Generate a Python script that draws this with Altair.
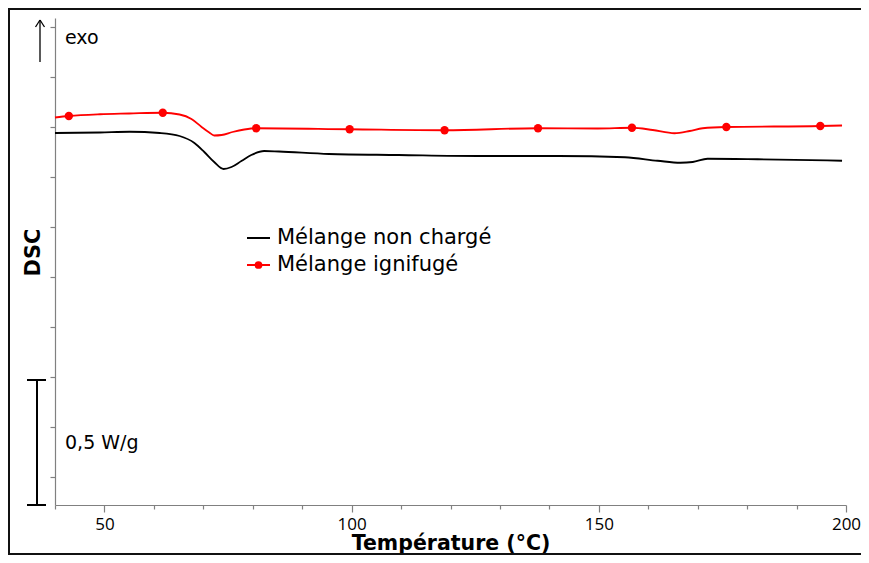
import altair as alt
import pandas as pd

# ---------------- data ----------------
series_names = ["Mélange non chargé", "Mélange ignifugé"]
series_colors = ["#000000", "#ff0000"]

temp_black = [40.0, 49.1, 55.1, 61.2, 65.2, 68.2, 70.2, 72.2, 74.1, 75.7, 77.7,
              79.7, 82.3, 85.3, 95.4, 109.5, 125.6, 141.8, 155.3, 161.9, 166.5,
              169.0, 172.0, 182.1, 199.2]
dsc_black = [1.376, 1.378, 1.381, 1.376, 1.364, 1.336, 1.300, 1.260, 1.232, 1.240,
             1.264, 1.288, 1.304, 1.302, 1.292, 1.288, 1.284, 1.284, 1.279, 1.265,
             1.257, 1.260, 1.273, 1.271, 1.265]

temp_red = [40.0, 42.8, 49.1, 55.0, 61.8, 65.2, 67.6, 69.6, 71.2, 72.2, 73.7,
            75.9, 78.3, 80.7, 99.6, 118.8, 137.7, 149.8, 156.7, 160.9, 165.3,
            168.4, 171.0, 175.8, 194.8, 199.2]
dsc_red = [1.438, 1.444, 1.451, 1.454, 1.457, 1.450, 1.432, 1.401, 1.378, 1.366,
           1.368, 1.380, 1.390, 1.395, 1.391, 1.387, 1.395, 1.394, 1.397, 1.388,
           1.375, 1.384, 1.395, 1.400, 1.404, 1.406]

marker_temp = [42.8, 61.8, 80.7, 99.6, 118.8, 137.7, 156.7, 175.8, 194.8]
marker_dsc = [1.444, 1.457, 1.395, 1.391, 1.387, 1.395, 1.397, 1.400, 1.404]

x_tick_values = list(range(40, 201, 10))
y_tick_values = [0.0, 0.2, 0.4, 0.6, 0.8, 1.0, 1.2, 1.4, 1.6, 1.8]

x_domain = [40, 200]
y_domain = [-0.112, 1.836]

scale_bar_length = 0.5           # W/g
scale_bar_label = "0,5 W/g"
exo_label = "exo"
x_title = "Température (°C)"
y_title = "DSC"

# ---------------- tables ----------------
lines_df = pd.DataFrame({
    "temp": temp_black + temp_red,
    "dsc": dsc_black + dsc_red,
    "series": [series_names[0]] * len(temp_black) + [series_names[1]] * len(temp_red),
})
markers_df = pd.DataFrame({"temp": marker_temp, "dsc": marker_dsc,
                           "series": [series_names[1]] * len(marker_temp)})
bar_bottom = y_domain[0]
bar_top = y_domain[0] + scale_bar_length
bar_df = pd.DataFrame({"dsc": [bar_bottom], "dsc2": [bar_top]})
caps_df = pd.DataFrame({"dsc": [bar_bottom, bar_top]})
bar_text_df = pd.DataFrame({"dsc": [(bar_bottom + bar_top) / 2], "label": [scale_bar_label]})
one = pd.DataFrame({"k": [0]})

# ---------------- layout ----------------
W, H = 791, 487
PAD = {"left": 47, "top": 10, "right": 15, "bottom": 50}
FONT = "DejaVu Sans"
TICK_FONT = "Open Sans"
AXIS_GRAY = "#808080"
FRAME = "#111111"

x_scale = alt.Scale(domain=x_domain, nice=False, zero=False)
y_scale = alt.Scale(domain=y_domain, nice=False, zero=False)
color_scale = alt.Scale(domain=series_names, range=series_colors)

x_axis = alt.Axis(
    values=x_tick_values,
    labelExpr="datum.value % 50 === 0 ? datum.label : ''",
    tickSize={"condition": {"test": "datum.value % 50 === 0", "value": 7}, "value": 4},
    labelPadding=4,
    labelFont=TICK_FONT, labelFontSize=17, labelColor="#000000",
    labelFlush=False, labelOverlap=False,
    domainColor=AXIS_GRAY, tickColor=AXIS_GRAY, domainWidth=1.2, tickWidth=1.2,
    grid=False,
    title=x_title, titleFont=FONT, titleFontSize=20.5, titleFontWeight="bold",
    titleColor="#000000", titleBaseline="alphabetic", titleY=44,
)
y_axis = alt.Axis(
    values=y_tick_values, labels=False, tickSize=5, grid=False,
    domainColor=AXIS_GRAY, tickColor=AXIS_GRAY, domainWidth=1.2, tickWidth=1.2,
    title=y_title, titleFont=FONT, titleFontSize=21, titleFontWeight="bold",
    titleColor="#000000", titleAngle=270, titleAlign="center",
    titleBaseline="middle", titleX=-22, titleY=234,
)

X = lambda f="temp": alt.X(f"{f}:Q", scale=x_scale, axis=x_axis)
Y = lambda f="dsc": alt.Y(f"{f}:Q", scale=y_scale, axis=y_axis)

# outer frame: thin filled bands on the top, left and bottom (right edge off the page)
frame_bottom = H + PAD["bottom"] - 1
frame_right = W + PAD["right"] + 5
frame_top = alt.Chart(one).mark_rect(color=FRAME, strokeWidth=0).encode(
    x=alt.value(-47), x2=alt.value(frame_right), y=alt.value(-10), y2=alt.value(-8))
frame_left = alt.Chart(one).mark_rect(color=FRAME, strokeWidth=0).encode(
    x=alt.value(-47), x2=alt.value(-45), y=alt.value(-10), y2=alt.value(frame_bottom + 1))
frame_bot = alt.Chart(one).mark_rect(color=FRAME, strokeWidth=0).encode(
    x=alt.value(-47), x2=alt.value(frame_right), y=alt.value(frame_bottom - 1),
    y2=alt.value(frame_bottom + 1))

lines = alt.Chart(lines_df).mark_line(interpolate="monotone", strokeWidth=1.8).encode(
    x=X(), y=Y(),
    color=alt.Color("series:N", scale=color_scale, legend=None),
    detail="series:N",
)
markers = alt.Chart(markers_df).mark_point(filled=True, size=70, opacity=1).encode(
    x=X(), y=Y(),
    color=alt.Color("series:N", scale=color_scale, legend=None),
)

# scale bar 0,5 W/g
bar = alt.Chart(bar_df).mark_rule(color="#000000", strokeWidth=2).encode(
    x=alt.value(-18), y=Y(), y2="dsc2:Q")
caps = alt.Chart(caps_df).mark_rule(color="#000000", strokeWidth=2).encode(
    x=alt.value(-28), x2=alt.value(-9), y=Y())
bar_text = alt.Chart(bar_text_df).mark_text(
    align="left", baseline="middle", font=FONT, fontSize=19, color="#000000").encode(
    x=alt.value(10), y=Y(), text="label:N")

# exo arrow
arrow_shaft = alt.Chart(one).mark_rule(color="#000000", strokeWidth=1.3).encode(
    x=alt.value(-15), y=alt.value(2), y2=alt.value(44))
arrow_l = alt.Chart(one).mark_rule(color="#000000", strokeWidth=1.3).encode(
    x=alt.value(-15), x2=alt.value(-19.5), y=alt.value(2), y2=alt.value(9))
arrow_r = alt.Chart(one).mark_rule(color="#000000", strokeWidth=1.3).encode(
    x=alt.value(-15), x2=alt.value(-10.5), y=alt.value(2), y2=alt.value(9))
exo = alt.Chart(one).mark_text(align="left", baseline="middle", font=FONT,
                               fontSize=19, color="#000000", text=exo_label).encode(
    x=alt.value(10), y=alt.value(20))

# legend (drawn by hand)
leg_y = [220, 247]
leg1_line = alt.Chart(one).mark_rule(color=series_colors[0], strokeWidth=2).encode(
    x=alt.value(192), x2=alt.value(215), y=alt.value(leg_y[0]))
leg2_line = alt.Chart(one).mark_rule(color=series_colors[1], strokeWidth=2).encode(
    x=alt.value(192), x2=alt.value(215), y=alt.value(leg_y[1]))
leg2_dot = alt.Chart(one).mark_point(filled=True, size=60, opacity=1,
                                     color=series_colors[1]).encode(
    x=alt.value(203.5), y=alt.value(leg_y[1]))
leg1_text = alt.Chart(one).mark_text(align="left", baseline="middle", font=FONT,
                                     fontSize=21, color="#000000",
                                     text=series_names[0]).encode(
    x=alt.value(222), y=alt.value(leg_y[0]))
leg2_text = alt.Chart(one).mark_text(align="left", baseline="middle", font=FONT,
                                     fontSize=21, color="#000000",
                                     text=series_names[1]).encode(
    x=alt.value(222), y=alt.value(leg_y[1]))

chart = alt.layer(
    frame_top, frame_left, frame_bot, lines, markers, bar, caps, bar_text,
    arrow_shaft, arrow_l, arrow_r, exo,
    leg1_line, leg2_line, leg2_dot, leg1_text, leg2_text,
).properties(
    width=W, height=H,
    autosize=alt.AutoSizeParams(type="none"),
    padding=PAD,
    background="white",
).configure_view(strokeWidth=0)

chart.save("out.html", embed_options={"renderer": "svg", "actions": False})
